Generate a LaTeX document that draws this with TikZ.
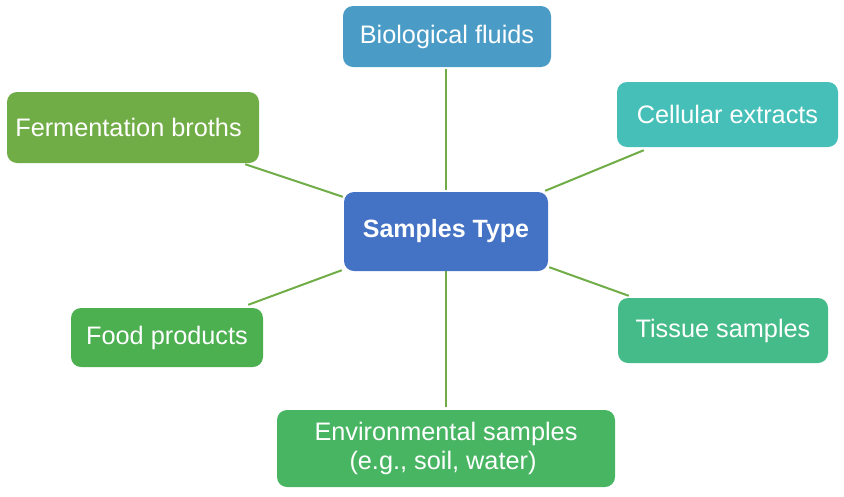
\documentclass[tikz,border=0pt]{standalone}
\usepackage{fontspec}
\setmainfont{Liberation Sans}
\definecolor{cbio}{HTML}{4A9CC6}
\definecolor{cferm}{HTML}{70AD47}
\definecolor{ccell}{HTML}{45BFB8}
\definecolor{ccenter}{HTML}{4472C4}
\definecolor{cfood}{HTML}{4CAF50}
\definecolor{ctissue}{HTML}{45BB8A}
\definecolor{cenv}{HTML}{48B563}
\definecolor{cline}{HTML}{70AD47}
\begin{document}
\begin{tikzpicture}[x=1pt,y=-1pt,
  box/.style={rounded corners=10pt, inner sep=0pt, text=white, align=center,
    font=\fontsize{25.3}{29}\selectfont},
  link/.style={draw=cline, line width=2pt}]
\useasboundingbox (0,0) rectangle (844,496);
\node[box, fill=cbio, minimum width=208pt, minimum height=61pt] (bio) at (447,36.5) {Biological fluids};
\node[box, fill=cferm, minimum width=252pt, minimum height=71pt] (ferm) at (133,127.5) {Fermentation broths\hspace*{9pt}};
\node[box, fill=ccell, minimum width=221pt, minimum height=65pt] (cell) at (727.5,114.5) {Cellular extracts};
\node[box, fill=ccenter, minimum width=204pt, minimum height=79pt, font=\bfseries\fontsize{25}{29}\selectfont] (center) at (446,231.5) {Samples Type};
\node[box, fill=cfood, minimum width=192pt, minimum height=59pt] (food) at (167,337.5) {Food products};
\node[box, fill=ctissue, minimum width=210pt, minimum height=65pt] (tissue) at (723,330.5) {Tissue samples};
\node[box, fill=cenv, minimum width=338pt, minimum height=77pt] (env) at (446,448.5) {Environmental samples\\(e.g., soil, water)\hspace*{6pt}};
\draw[link, shorten <=2pt, shorten >=2pt] (center.north) -- (center.north |- bio.south);
\draw[link] ([xshift=-14pt,yshift=-1pt]ferm.south east) -- ([xshift=-1pt,yshift=-5pt]center.north west);
\draw[link] ([xshift=27pt,yshift=-3pt]cell.south west) -- ([xshift=-3pt,yshift=1pt]center.north east);
\draw[link] ([xshift=-15pt,yshift=3pt]food.north east) -- ([xshift=-2pt,yshift=1pt]center.south west);
\draw[link] ([xshift=1pt,yshift=4pt]center.south east) -- ([xshift=11pt,yshift=2pt]tissue.north west);
\draw[link, shorten >=3pt] (center.south) -- (env.north);
\end{tikzpicture}
\end{document}
